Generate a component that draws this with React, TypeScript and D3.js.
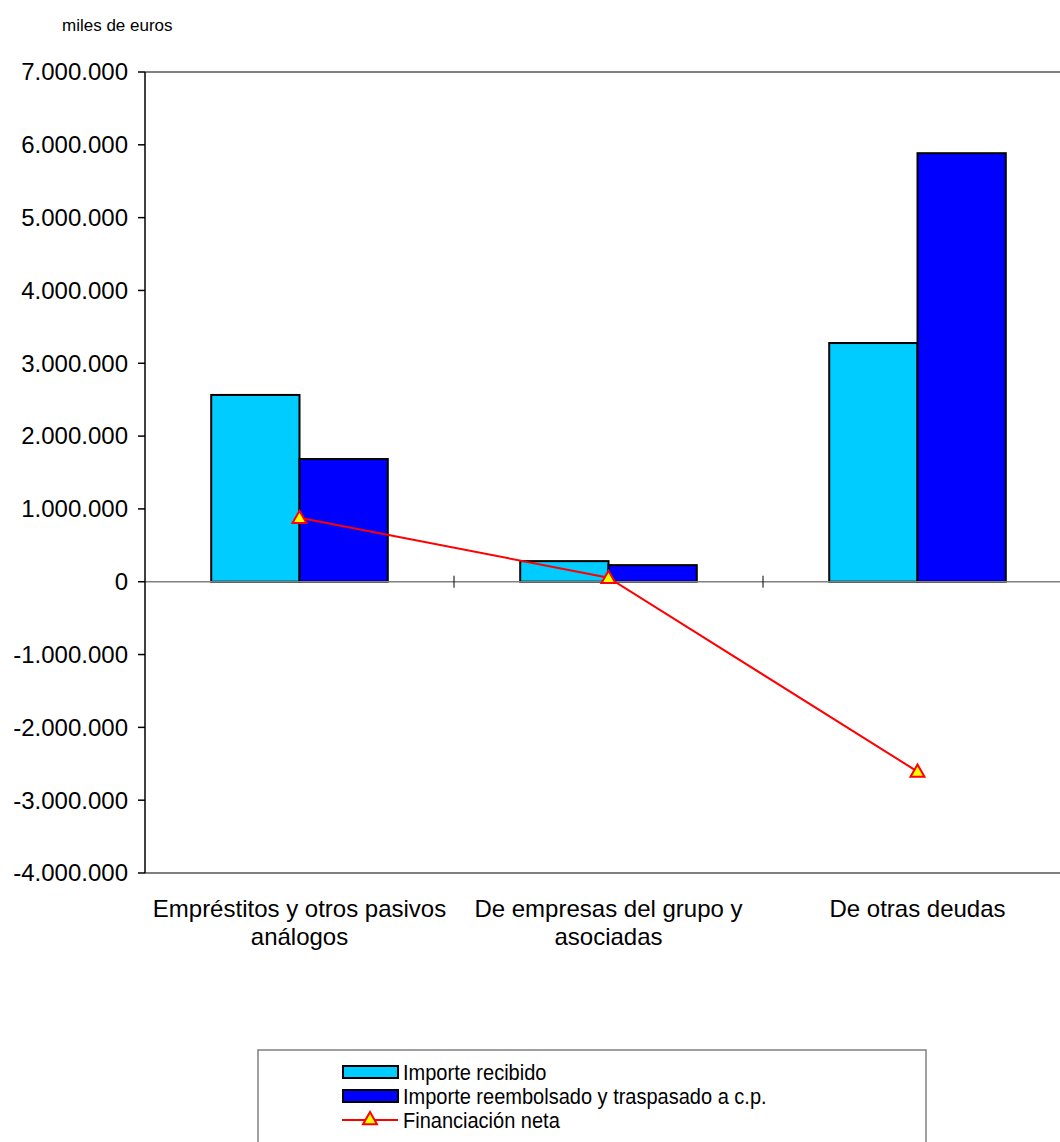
import { useMemo } from "react";
import * as d3 from "d3";

const WIDTH = 1060;
const HEIGHT = 1142;
const PLOT = { left: 145, right: 1072, top: 72, bottom: 873 };

const categories = [
  ["Empréstitos y otros pasivos", "análogos"],
  ["De empresas del grupo y", "asociadas"],
  ["De otras deudas"],
];
const recibido = [2565000, 283000, 3278000];
const reembolsado = [1685000, 228000, 5885000];
const neta = [880000, 55000, -2607000];
const yTicks = [7000000, 6000000, 5000000, 4000000, 3000000, 2000000, 1000000, 0, -1000000, -2000000, -3000000, -4000000];

const seriesNames = ["Importe recibido", "Importe reembolsado y traspasado a c.p.", "Financiación neta"];
const COLORS = { recibido: "#00CCFF", reembolsado: "#0000FF", line: "#FF0000", marker: "#FFFF00" };

const FONT = "Liberation Sans, Arial, sans-serif";

const fmt = (v: number) => {
  if (v === 0) return "0";
  const s = Math.abs(v).toString().replace(/\B(?=(\d{3})+(?!\d))/g, ".");
  return (v < 0 ? "-" : "") + s;
};

const triangle = (cx: number, cy: number, r: number) =>
  `M${cx},${cy - r} L${cx + r},${cy + r * 0.75} L${cx - r},${cy + r * 0.75} Z`;

export default function App() {
  const idx = categories.map((_, i) => i);

  const xScale = useMemo(
    () => d3.scaleBand<number>().domain(idx).range([PLOT.left, PLOT.right]).paddingInner(0).paddingOuter(0),
    []
  );
  const yScale = useMemo(
    () => d3.scaleLinear().domain([-4000000, 7000000]).range([PLOT.bottom, PLOT.top]),
    []
  );

  const step = xScale.bandwidth();
  const barW = step / 3.5; // gap width 150%
  const y0 = yScale(0);

  const center = (i: number) => (xScale(i) as number) + step / 2;

  const line = d3
    .line<number>()
    .x((_, i) => center(i))
    .y((d) => yScale(d));

  return (
    <svg
      width={WIDTH}
      height={HEIGHT}
      style={{ position: "absolute", left: 0, top: 0, background: "#fff" }}
      fontFamily={FONT}
    >
      <text x={62} y={25} dy="0.35em" fontSize={17} fill="#000">
        miles de euros
      </text>

      {/* plot area border lines */}
      <line x1={PLOT.left} x2={WIDTH} y1={PLOT.top} y2={PLOT.top} stroke="#808080" strokeWidth={2} />
      <line x1={PLOT.left} x2={WIDTH} y1={PLOT.bottom} y2={PLOT.bottom} stroke="#808080" strokeWidth={2} />

      {/* bars */}
      {idx.map((i) => {
        const x = center(i) - barW;
        return (
          <g key={i}>
            <rect
              x={x}
              width={barW}
              y={Math.min(yScale(recibido[i]), y0)}
              height={Math.abs(y0 - yScale(recibido[i]))}
              fill={COLORS.recibido}
              stroke="#000"
              strokeWidth={2}
            />
            <rect
              x={x + barW}
              width={barW}
              y={Math.min(yScale(reembolsado[i]), y0)}
              height={Math.abs(y0 - yScale(reembolsado[i]))}
              fill={COLORS.reembolsado}
              stroke="#000"
              strokeWidth={2}
            />
          </g>
        );
      })}

      {/* zero line + category ticks */}
      <line x1={PLOT.left} x2={WIDTH} y1={y0} y2={y0} stroke="#808080" strokeWidth={1.5} />
      {idx.slice(1).map((i) => (
        <line key={i} x1={xScale(i)} x2={xScale(i)} y1={y0 - 6} y2={y0 + 6} stroke="#000" strokeWidth={1} />
      ))}

      {/* y axis */}
      <line x1={PLOT.left} x2={PLOT.left} y1={PLOT.top} y2={PLOT.bottom} stroke="#000" strokeWidth={1.5} />
      {yTicks.map((t) => (
        <g key={t}>
          <line x1={PLOT.left - 7} x2={PLOT.left} y1={yScale(t)} y2={yScale(t)} stroke="#000" strokeWidth={1.5} />
          <text x={128} y={yScale(t)} dy="0.35em" textAnchor="end" fontSize={24} fill="#000">
            {fmt(t)}
          </text>
        </g>
      ))}

      {/* net line */}
      <path d={line(neta) ?? ""} fill="none" stroke={COLORS.line} strokeWidth={2} />
      {neta.map((v, i) => (
        <path key={i} d={triangle(center(i), yScale(v), 7)} fill={COLORS.marker} stroke={COLORS.line} strokeWidth={2} />
      ))}

      {/* category labels */}
      {categories.map((lines, i) => (
        <text key={i} textAnchor="middle" fontSize={24} fill="#000">
          {lines.map((l, j) => (
            <tspan key={j} x={center(i)} y={909 + j * 28} dy="0.35em">
              {l}
            </tspan>
          ))}
        </text>
      ))}

      {/* legend */}
      <rect x={258} y={1050} width={668} height={110} fill="#fff" stroke="#808080" strokeWidth={1.5} />
      <rect x={343} y={1066} width={55} height={12} fill={COLORS.recibido} stroke="#000" strokeWidth={2} />
      <rect x={343} y={1090} width={55} height={12} fill={COLORS.reembolsado} stroke="#000" strokeWidth={2} />
      <line x1={342} x2={398} y1={1120} y2={1120} stroke={COLORS.line} strokeWidth={2} />
      <path d={triangle(370, 1119, 7)} fill={COLORS.marker} stroke={COLORS.line} strokeWidth={2} />
      {seriesNames.map((n, i) => (
        <text
          key={n}
          transform={`translate(403, ${1072 + i * 24}) scale(0.91, 1)`}
          dy="0.35em"
          fontSize={22}
          fill="#000"
        >
          {n}
        </text>
      ))}
    </svg>
  );
}
